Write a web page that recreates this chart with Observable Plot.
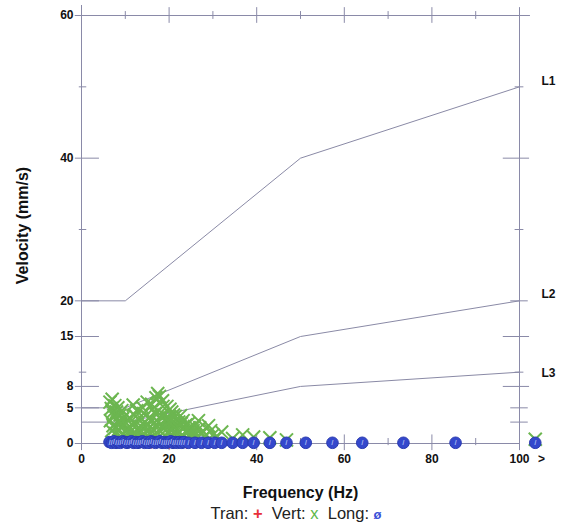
<!DOCTYPE html>
<html>
<head>
<meta charset="utf-8">
<script src="https://cdn.jsdelivr.net/npm/d3@7"></script>
<script src="https://cdn.jsdelivr.net/npm/@observablehq/plot@0.6"></script>
<style>
  html, body { margin: 0; padding: 0; background: #fff; }
  #chart { width: 562px; }
  #legend { width: 562px; text-align: center; font-family: "Liberation Sans", Arial, sans-serif; font-size: 16.5px; line-height: 22px; color: #222; margin-left: 15px; }
  #legend .tran { color: #e8303a; font-weight: bold; }
  #legend .vert { color: #5cb84a; }
  #legend .long { color: #3a50d8; font-weight: bold; font-size: 13px; }
</style>
</head>
<body>
<div id="chart"></div>
<div id="legend"></div>
<script>
// ---- data ----
const limitFreq = [0, 10, 50, 100];
const limitL1 = [20, 20, 40, 50];
const limitL2 = [5, 5, 15, 20];
const limitL3 = [3, 3, 8, 10];
const limitNames = ["L1", "L2", "L3"];

const tranFreq = [8.0, 12.0, 16.0, 20.0, 24.0];
const tranVel  = [0.1, 0.1, 0.15, 0.1, 0.1];

const vertFreq = [6.5, 6.8, 7.0, 7.2, 7.4, 7.6, 7.8, 8.0, 8.2, 8.5, 8.6, 8.8, 9.0, 9.3, 9.6, 10.0,
  10.3, 10.6, 11.0, 11.2, 11.4, 11.8, 12.0, 12.2, 12.6, 12.9, 13.0, 13.4, 13.6, 13.8, 14.0, 14.2,
  14.6, 14.8, 15.0, 15.4, 15.6, 15.8, 16.2, 16.4, 16.6, 16.9, 17.0, 17.4, 17.6, 17.8, 18.0, 18.2,
  18.4, 18.6, 19.0, 19.2, 19.4, 19.6, 19.8, 20.0, 20.2, 20.6, 20.8, 21.0, 21.2, 21.4, 21.8, 22.0,
  22.2, 22.6, 23.0, 23.4, 23.6, 23.8, 24.2, 24.6, 25.0, 25.5, 26.0, 26.7, 27.3, 28.0, 29.0, 30.0,
  6.6, 6.9, 7.1, 7.7, 8.3, 8.9, 9.2, 9.8, 10.2, 10.8, 11.6, 12.4, 12.8, 13.2, 14.4, 15.2,
  16.0, 16.8, 17.2, 18.8, 19.1, 19.9, 20.4, 21.6, 22.4, 22.8, 23.2, 24.0, 24.4, 25.2, 25.8, 26.4,
  27.0, 27.8, 28.5, 29.5, 30.5, 31.0, 12.0, 14.0, 16.0, 18.5, 19.5, 20.5, 21.0,
  32.0, 34.5, 36.8, 39.3, 43.0, 46.8, 103.6];
const vertVel = [5.8, 4.9, 6.2, 2.5, 3.9, 5.3, 1.4, 4.4, 3.0, 2.0, 0.4, 4.0, 1.0, 3.4, 2.6, 1.6,
  0.8, 2.2, 3.6, 0.5, 1.2, 5.4, 1.5, 2.8, 4.6, 0.6, 1.8, 3.2, 2.4, 0.9, 1.0, 4.2,
  2.4, 1.8, 5.8, 3.6, 0.7, 1.4, 4.8, 2.0, 2.9, 1.2, 6.4, 7.0, 3.0, 6.6, 0.5, 3.9,
  2.4, 5.2, 2.2, 1.0, 3.4, 2.8, 1.6, 0.6, 4.8, 4.4, 2.0, 2.6, 1.4, 3.8, 1.2, 0.5,
  3.0, 3.9, 2.1, 1.0, 0.4, 2.6, 1.6, 2.2, 0.8, 1.8, 1.2, 3.2, 1.5, 0.9, 2.5, 1.2,
  3.2, 1.8, 4.4, 2.2, 5.0, 2.8, 4.6, 3.8, 2.9, 1.4, 2.6, 3.8, 1.2, 2.0, 3.0, 2.6,
  3.4, 4.2, 2.2, 4.0, 1.8, 3.6, 2.8, 2.0, 1.6, 2.8, 3.2, 1.8, 2.8, 1.4, 2.4, 1.0,
  2.2, 1.6, 1.2, 1.8, 0.8, 1.0, 4.0, 5.0, 5.5, 6.0, 5.2, 3.3, 4.0,
  1.6, 0.7, 1.2, 0.9, 0.8, 0.5, 0.6];

const longFreq = [6.4, 6.9, 7.4, 7.9, 8.4, 8.9, 9.4, 9.9, 10.4, 10.9, 11.4, 11.9, 12.4, 12.9,
  13.4, 13.9, 14.4, 14.9, 15.4, 15.9, 16.4, 16.9, 17.4, 17.9, 18.4, 18.9, 19.4, 19.9, 20.4, 20.9,
  21.4, 21.9, 22.4, 22.9, 23.4, 24.4, 25.9, 27.4, 28.9, 30.4,
  32.0, 34.5, 36.8, 39.3, 43.0, 46.8, 51.2, 57.3, 64.1, 73.5, 85.4, 103.6];
const longVel = [0.2, 0.1, 0.3, 0.1, 0.2, 0.1, 0.3, 0.2, 0.1, 0.2, 0.3, 0.1, 0.2, 0.1,
  0.2, 0.3, 0.1, 0.2, 0.1, 0.3, 0.2, 0.1, 0.2, 0.3, 0.1, 0.2, 0.1, 0.2, 0.3, 0.1,
  0.2, 0.1, 0.2, 0.1, 0.2, 0.1, 0.1, 0.1, 0.1, 0.1,
  0.1, 0.1, 0.1, 0.1, 0.1, 0.1, 0.1, 0.1, 0.1, 0.1, 0.1, 0.1];

const xTickLabels = [0, 20, 40, 60, 80, 100];
const xOverflowTick = 105;
const xMajorTicks = [0, 20, 40, 60, 80, 100];
const xMinorTicks = [10, 30, 50, 70, 90];
const yTickLabels = [0, 5, 8, 15, 20, 40, 60];
const yMinorTicks = [10, 30, 50];
const rightLongTicks = [60, 40, 15, 8];
const rightMidTicks = [20, 5, 3];
const rightMinorTicks = [50, 30, 10];
const xTitle = "Frequency (Hz)";
const yTitle = "Velocity (mm/s)";

// ---- tables ----
const limitRows = [];
[limitL1, limitL2, limitL3].forEach((vals, i) =>
  vals.forEach((v, j) => limitRows.push({name: limitNames[i], f: limitFreq[j], v})));
const limitEnds = [limitL1, limitL2, limitL3].map((vals, i) => ({name: limitNames[i], f: limitFreq[limitFreq.length - 1], v: vals[vals.length - 1]}));
const tran = tranFreq.map((f, i) => ({f, v: tranVel[i]}));
const vert = vertFreq.map((f, i) => ({f, v: vertVel[i]}));
const long = longFreq.map((f, i) => ({f, v: longVel[i]}));

const axisColor = "#8a8aa8";
const lineColor = "#8a8aa6";

const chart = Plot.plot({
  width: 562,
  height: 502,
  marginLeft: 81,
  marginRight: 43,
  marginTop: 15,
  marginBottom: 59,
  style: {fontFamily: "'Liberation Sans', Arial, sans-serif", fontSize: "12px", fontWeight: "bold", color: "#111", background: "#fff"},
  x: {domain: [0, 100], axis: null},
  y: {domain: [0, 60], axis: null},
  marks: [
    // frame
    Plot.ruleX([0], {x: d => d, y1: -0.4, y2: 61.4, stroke: axisColor}),
    Plot.ruleX([100], {x: d => d, y1: -0.4, y2: 61.0, stroke: axisColor}),
    Plot.ruleY([60], {y: d => d, x1: -1.4, x2: 102.5, stroke: axisColor}),
    Plot.ruleY([0], {y: d => d, x1: -1.4, x2: 100, stroke: axisColor}),
    // left ticks
    Plot.ruleY(yTickLabels, {y: d => d, x1: -1.4, x2: 4.1, stroke: axisColor}),
    Plot.ruleY(yMinorTicks, {y: d => d, x1: -0.5, x2: 1.2, stroke: axisColor}),
    // right ticks
    Plot.ruleY(rightLongTicks, {y: d => d, x1: 96.3, x2: 102.3, stroke: axisColor}),
    Plot.ruleY(rightMidTicks, {y: d => d, x1: 98.0, x2: 102.0, stroke: axisColor}),
    Plot.ruleY(rightMinorTicks, {y: d => d, x1: 99.0, x2: 101.0, stroke: axisColor}),
    // top ticks
    Plot.ruleX(xMajorTicks, {x: d => d, y1: 58.9, y2: 61.1, stroke: axisColor}),
    Plot.ruleX(xMinorTicks, {x: d => d, y1: 59.45, y2: 60.55, stroke: axisColor}),
    // bottom ticks
    Plot.ruleX(xMajorTicks, {x: d => d, y1: -1.0, y2: 1.2, stroke: axisColor}),
    Plot.ruleX(xMinorTicks, {x: d => d, y1: -0.3, y2: 0.7, stroke: axisColor}),
    // axis labels
    Plot.axisY({ticks: yTickLabels, tickSize: 0, tickPadding: 8, label: null}),
    Plot.axisX({ticks: [...xTickLabels, xOverflowTick], tickSize: 0, tickPadding: 11, label: null,
      tickFormat: d => d > 100 ? ">" : d}),
    Plot.text([yTitle], {frameAnchor: "left", text: d => d, rotate: -90, dx: -59, dy: -4,
      textAnchor: "middle", lineAnchor: "middle", fontSize: 16}),
    Plot.text([xTitle], {frameAnchor: "bottom", text: d => d, dy: 49,
      textAnchor: "middle", lineAnchor: "middle", fontSize: 16}),
    // limit lines
    Plot.line(limitRows, {x: "f", y: "v", z: "name", stroke: lineColor, strokeWidth: 1}),
    Plot.text(limitEnds.filter(d => d.name === "L1"), {x: "f", y: "v", text: "name", dx: 29, dy: -6, fontSize: 12}),
    Plot.text(limitEnds.filter(d => d.name === "L2"), {x: "f", y: "v", text: "name", dx: 29, dy: -7, fontSize: 12}),
    Plot.text(limitEnds.filter(d => d.name === "L3"), {x: "f", y: "v", text: "name", dx: 29, dy: 1, fontSize: 12}),
    // data
    Plot.dot(tran, {x: "f", y: "v", symbol: "plus", r: 4, stroke: "#e8303a", strokeWidth: 1.5}),
    Plot.dot(vert, {x: "f", y: "v", symbol: "times", r: 6, stroke: "#6cb650", strokeWidth: 2}),
    Plot.dot(long, {x: "f", y: "v", symbol: "circle", r: 5.8, fill: "#3448cc", stroke: "#2a3ab0", strokeWidth: 1}),
    Plot.text(long, {x: "f", y: "v", text: () => "/", fill: "#9fb0ee", fontSize: 8, fontWeight: "bold"})
  ]
});
document.getElementById("chart").appendChild(chart);

document.getElementById("legend").innerHTML =
  'Tran: <span class="tran">+</span>&nbsp; Vert: <span class="vert">x</span>&nbsp; Long: <span class="long">ø</span>';
</script>
</body>
</html>
